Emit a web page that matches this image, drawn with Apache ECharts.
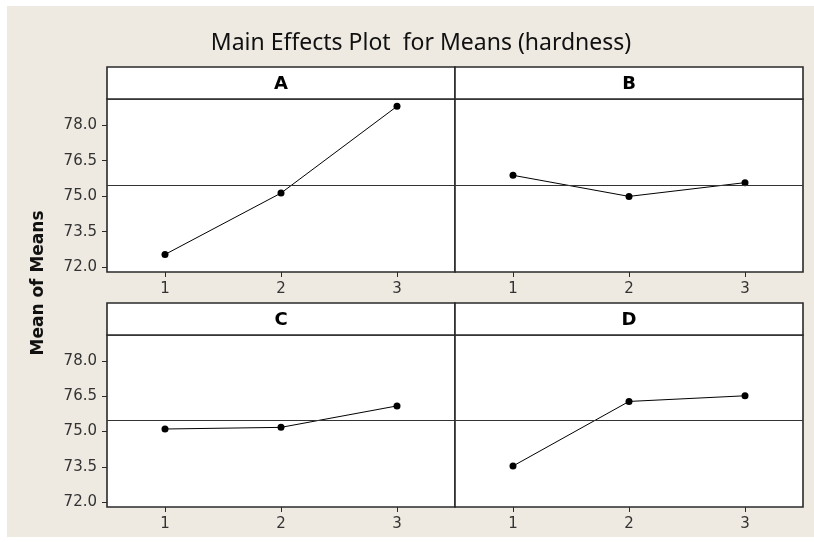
<!DOCTYPE html>
<html>
<head>
<meta charset="utf-8">
<script src="https://cdn.jsdelivr.net/npm/echarts@6/dist/echarts.min.js"></script>
<style>
html,body{margin:0;padding:0;background:#fff;}
#c{width:814px;height:542px;}
</style>
</head>
<body>
<div id="c"></div>
<script>
// ---- data ----
const factors = ['A', 'B', 'C', 'D'];
const levels = [1, 2, 3];
const meansA = [72.54, 75.13, 78.79];
const meansB = [75.88, 74.99, 75.57];
const meansC = [75.11, 75.18, 76.09];
const meansD = [73.54, 76.28, 76.52];
const yTicks = [72.0, 73.5, 75.0, 76.5, 78.0];
const xTicks = [1, 2, 3];
const titleText = 'Main Effects Plot  for Means (hardness)';
const yAxisName = 'Mean of Means';

const allMeans = [meansA, meansB, meansC, meansD];
const flat = allMeans.flat();
const grandMean = flat.reduce((a, b) => a + b, 0) / flat.length;

// ---- layout ----
const panels = [
  {left: 107, top: 99, width: 348, height: 173},
  {left: 455, top: 99, width: 348, height: 173},
  {left: 107, top: 335, width: 348, height: 172},
  {left: 455, top: 335, width: 348, height: 172}
];
const stripH = 32;
const lineCol = '#2a2a2a';
const txtCol = '#333';
const font = 'DejaVu Sans';

const grids = [], xAxes = [], yAxes = [], series = [], graphics = [];

graphics.push({
  type: 'rect', z: -10, silent: true,
  shape: {x: 7, y: 6, width: 807, height: 531},
  style: {fill: '#eeeae1'}
});

panels.forEach((p, i) => {
  grids.push({left: p.left, top: p.top, width: p.width, height: p.height,
    show: true, backgroundColor: '#fff', borderColor: lineCol, borderWidth: 1.6, containLabel: false});
  xAxes.push({
    type: 'value', gridIndex: i, min: 0.5, max: 3.5,
    axisLine: {show: false},
    splitLine: {show: false},
    axisTick: {show: true, inside: false, length: 5, lineStyle: {color: lineCol}, customValues: xTicks},
    axisLabel: {show: true, margin: 10, fontSize: 15, fontFamily: font, color: txtCol,
      customValues: xTicks, formatter: v => String(v)}
  });
  const leftCol = (i % 2 === 0);
  yAxes.push({
    type: 'value', gridIndex: i, min: 71.8, max: 79.1,
    axisLine: {show: false},
    splitLine: {show: false},
    axisTick: {show: leftCol, inside: false, length: 5, lineStyle: {color: lineCol}, customValues: yTicks},
    axisLabel: {show: leftCol, margin: 10, fontSize: 15, fontFamily: font, color: txtCol,
      customValues: yTicks, formatter: v => v.toFixed(1)}
  });
  series.push({
    type: 'line', xAxisIndex: i, yAxisIndex: i,
    data: levels.map((lv, k) => [lv, allMeans[i][k]]),
    symbol: 'circle', symbolSize: 7,
    itemStyle: {color: '#000'},
    lineStyle: {color: '#000', width: 1},
    animation: false,
    markLine: {
      silent: true, symbol: ['none', 'none'], label: {show: false},
      lineStyle: {color: '#333', width: 1, type: 'solid'},
      animation: false,
      data: [{yAxis: grandMean}]
    }
  });
  // strip
  graphics.push({
    type: 'rect', z: 5, silent: true,
    shape: {x: p.left, y: p.top - stripH, width: p.width, height: stripH},
    style: {fill: '#fff', stroke: lineCol, lineWidth: 1.6}
  });
  graphics.push({
    type: 'text', z: 6, silent: true,
    x: p.left + p.width / 2, y: p.top - stripH / 2 + 1,
    style: {text: factors[i], font: 'bold 18px "' + font + '"', fill: '#000',
      align: 'center', verticalAlign: 'middle'}
  });
});

graphics.push({
  type: 'text', silent: true, x: 421, y: 43,
  style: {text: titleText, font: '23px "Noto Sans"', fill: '#111', align: 'center', verticalAlign: 'middle'}
});
graphics.push({
  type: 'text', silent: true, x: 39, y: 283, rotation: Math.PI / 2,
  style: {text: yAxisName, font: 'bold 17px "' + font + '"', fill: '#111', align: 'center', verticalAlign: 'middle'}
});

const chart = echarts.init(document.getElementById('c'), null, {renderer: 'canvas'});
chart.setOption({
  backgroundColor: 'transparent',
  animation: false,
  grid: grids, xAxis: xAxes, yAxis: yAxes, series: series,
  graphic: graphics
});
</script>
</body>
</html>
